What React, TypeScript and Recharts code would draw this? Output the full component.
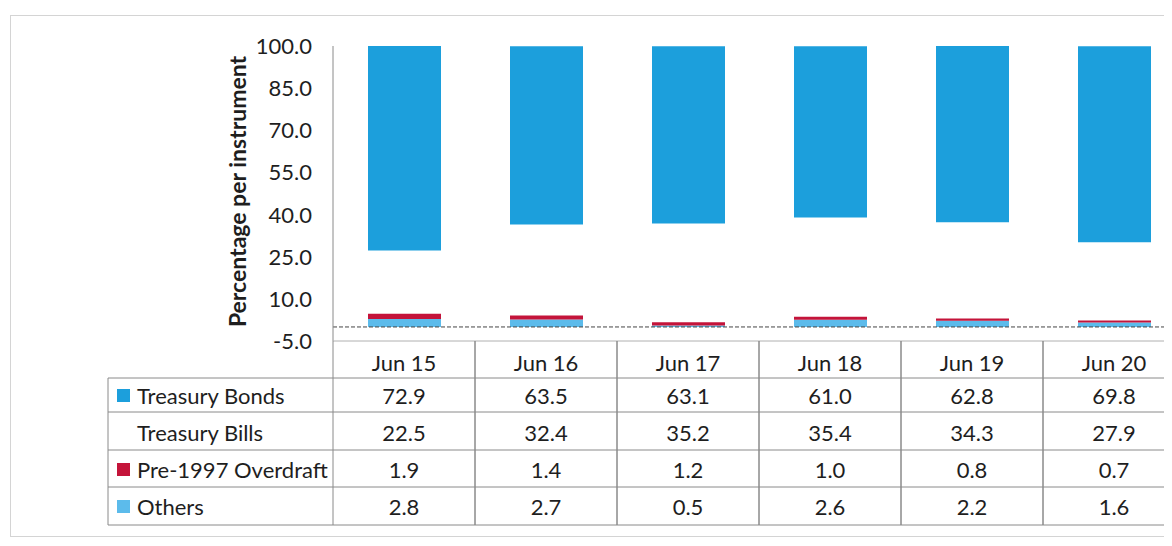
import React from 'react';
import { BarChart, Bar, XAxis, YAxis, ReferenceLine } from 'recharts';

const categories = ['Jun 15', 'Jun 16', 'Jun 17', 'Jun 18', 'Jun 19', 'Jun 20'];
const treasuryBonds = [72.9, 63.5, 63.1, 61.0, 62.8, 69.8];
const treasuryBills = [22.5, 32.4, 35.2, 35.4, 34.3, 27.9];
const overdraft = [1.9, 1.4, 1.2, 1.0, 0.8, 0.7];
const others = [2.8, 2.7, 0.5, 2.6, 2.2, 1.6];
const yTicks = [-5, 10, 25, 40, 55, 70, 85, 100];

const COLORS = {
  bonds: '#1c9fdc',
  bills: '#ffffff',
  overdraft: '#c4143a',
  others: '#5cbbeb',
};

const rows = [
  { key: 'bonds', name: 'Treasury Bonds', values: treasuryBonds, color: COLORS.bonds, marker: true },
  { key: 'bills', name: 'Treasury Bills', values: treasuryBills, color: COLORS.bills, marker: false },
  { key: 'overdraft', name: 'Pre-1997 Overdraft', values: overdraft, color: COLORS.overdraft, marker: true },
  { key: 'others', name: 'Others', values: others, color: COLORS.others, marker: true },
];

const data = categories.map((c, i) => ({
  name: c,
  bonds: treasuryBonds[i],
  bills: treasuryBills[i],
  overdraft: overdraft[i],
  others: others[i],
}));

const CHART_W = 1190;
const CHART_H = 530;
const MARGIN = { top: 38, right: 13, left: 0, bottom: 7 };
const Y_W = 325;
const X_H = 190;
const COL_W = (CHART_W - MARGIN.right - MARGIN.left - Y_W) / categories.length;

const FONT = 'Lato, "Open Sans", sans-serif';
const LINE = '#8a8a8a';
const TEXT = '#1e1e1e';

const rowLines = [37, 71, 109, 146, 184];
const rowCenters = [54, 91, 128, 165];
const headerCenter = 21;
const LABEL_W = 225;

const TableTick = (props: any) => {
  const { x, y, payload } = props;
  const idx = categories.indexOf(payload.value);
  const half = COL_W / 2;
  const left = x - half;
  const right = x + half;
  const bottom = y + rowLines[rowLines.length - 1];
  return (
    <g>
      <line x1={left} y1={y} x2={left} y2={bottom} stroke={LINE} strokeWidth={1} />
      <line x1={right} y1={y} x2={right} y2={bottom} stroke={LINE} strokeWidth={1} />
      <text x={x} y={y + headerCenter} textAnchor="middle" dominantBaseline="central" fontFamily={FONT} fontSize={22} fill={TEXT}>
        {payload.value}
      </text>
      {rowLines.map((ly, k) => (
        <line key={'h' + k} x1={left} y1={y + ly} x2={right} y2={y + ly} stroke={LINE} strokeWidth={1} />
      ))}
      {rows.map((r, k) => (
        <text key={'v' + k} x={x} y={y + rowCenters[k]} textAnchor="middle" dominantBaseline="central" fontFamily={FONT} fontSize={22} fill={TEXT}>
          {r.values[idx].toFixed(1)}
        </text>
      ))}
      {idx === 0 && (
        <g>
          <line x1={left - LABEL_W} y1={y + rowLines[0]} x2={left - LABEL_W} y2={bottom} stroke={LINE} strokeWidth={1} />
          {rowLines.map((ly, k) => (
            <line key={'lh' + k} x1={left - LABEL_W} y1={y + ly} x2={left} y2={y + ly} stroke={LINE} strokeWidth={1} />
          ))}
          {rows.map((r, k) => (
            <g key={'l' + k}>
              {r.marker && (
                <rect x={left - LABEL_W + 9} y={y + rowCenters[k] - 6} width={13} height={13} fill={r.color} />
              )}
              <text x={left - LABEL_W + 29} y={y + rowCenters[k]} textAnchor="start" dominantBaseline="central" fontFamily={FONT} fontSize={22} fill={TEXT}>
                {r.name}
              </text>
            </g>
          ))}
        </g>
      )}
    </g>
  );
};

const YLabel = (props: any) => {
  const vb = props.viewBox || {};
  const cy = (vb.y || 0) + (vb.height || 0) / 2 - 2;
  const cx = 229;
  return (
    <text x={cx} y={cy} transform={`rotate(-90, ${cx}, ${cy})`} textAnchor="middle" dominantBaseline="central" fontFamily={FONT} fontSize={23} fontWeight={700} fill={TEXT}>
      Percentage per instrument
    </text>
  );
};

export default function App() {
  return (
    <div style={{ position: 'relative', width: 1164, height: CHART_H, overflow: 'hidden', background: '#fff' }}>
      <div style={{ position: 'absolute', left: 2, top: 7, width: 1300, height: 522, border: '1px solid #d4d4d4', boxSizing: 'border-box' }} />
      <div style={{ position: 'absolute', left: 0, top: 0 }}>
        <BarChart width={CHART_W} height={CHART_H} data={data} margin={MARGIN} barSize={73}>
          <YAxis
            width={Y_W}
            domain={[-5, 100]}
            ticks={yTicks}
            interval={0}
            tickFormatter={(v: number) => v.toFixed(1)}
            tickLine={false}
            tickSize={0}
            tickMargin={21}
            axisLine={{ stroke: LINE }}
            tick={{ fontFamily: FONT, fontSize: 22, fill: TEXT }}
            label={<YLabel />}
          />
          <XAxis
            dataKey="name"
            height={X_H}
            interval={0}
            tickLine={false}
            tickSize={0}
            tickMargin={0}
            axisLine={{ stroke: '#b0b0b0' }}
            tick={<TableTick />}
          />
          <Bar dataKey="others" name="Others" stackId="a" fill={COLORS.others} isAnimationActive={false} />
          <Bar dataKey="overdraft" name="Pre-1997 Overdraft" stackId="a" fill={COLORS.overdraft} isAnimationActive={false} />
          <Bar dataKey="bills" name="Treasury Bills" stackId="a" fill={COLORS.bills} fillOpacity={0} isAnimationActive={false} />
          <Bar dataKey="bonds" name="Treasury Bonds" stackId="a" fill={COLORS.bonds} isAnimationActive={false} />
          <ReferenceLine y={0} stroke="#444" strokeDasharray="4 2" />
        </BarChart>
      </div>
    </div>
  );
}
